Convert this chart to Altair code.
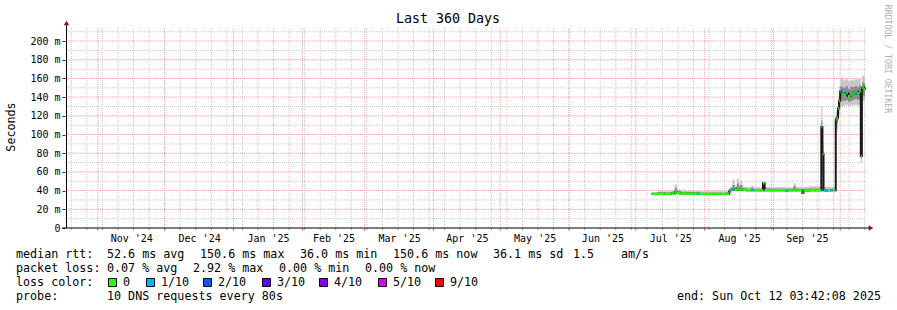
import altair as alt
import pandas as pd

# ---------------- data ----------------
times = [
    "2025-07-08T04:00", "2025-07-11T00:00", "2025-07-14T00:00", "2025-07-17T00:00",
    "2025-07-18T12:00", "2025-07-19T12:00", "2025-07-21T00:00", "2025-07-24T00:00",
    "2025-07-27T00:00", "2025-07-28T12:00", "2025-07-29T12:00", "2025-08-02T00:00",
    "2025-08-05T00:00", "2025-08-08T00:00", "2025-08-11T00:00", "2025-08-12T00:00",
    "2025-08-12T12:00", "2025-08-13T12:00", "2025-08-14T12:00", "2025-08-15T12:00",
    "2025-08-16T12:00", "2025-08-17T00:00", "2025-08-18T00:00", "2025-08-20T00:00",
    "2025-08-22T00:00", "2025-08-23T00:00", "2025-08-26T00:00", "2025-08-27T06:00",
    "2025-08-28T00:00", "2025-08-31T00:00", "2025-09-03T00:00", "2025-09-06T12:00",
    "2025-09-07T12:00", "2025-09-10T00:00", "2025-09-11T00:00", "2025-09-14T00:00",
    "2025-09-14T12:00", "2025-09-17T00:00", "2025-09-20T00:00", "2025-09-22T12:00",
    "2025-09-23T00:00", "2025-09-23T12:00", "2025-09-24T12:00", "2025-09-25T12:00",
    "2025-09-26T12:00", "2025-09-27T12:00", "2025-09-28T12:00", "2025-09-29T00:00",
    "2025-09-29T12:00", "2025-09-30T00:00", "2025-09-30T12:00", "2025-10-01T00:00",
    "2025-10-01T12:00", "2025-10-02T12:00", "2025-10-03T12:00", "2025-10-04T12:00",
    "2025-10-05T12:00", "2025-10-06T12:00", "2025-10-07T12:00", "2025-10-08T12:00",
    "2025-10-09T12:00", "2025-10-10T06:00", "2025-10-10T18:00", "2025-10-11T12:00",
    "2025-10-12T03:00", "2025-10-12T03:42",
]
median_ms = [
    36.4, 36.6, 36.5, 36.8, 38.2, 37.6, 37.0, 36.8, 36.6, 36.7, 36.5, 36.4,
    36.5, 36.4, 36.6, 39.0, 40.6, 41.2, 40.8, 42.0, 40.9, 41.3, 40.6, 40.4,
    40.6, 40.3, 40.3, 48.0, 40.5, 40.3, 40.4, 40.2, 40.3, 40.6, 40.3, 37.5,
    40.2, 40.4, 40.3, 108.0, 79.0, 40.3, 40.2, 40.4, 40.3, 40.5, 40.3, 116.0,
    118.0, 128.0, 136.0, 146.0, 143.0, 142.5, 144.5, 141.0, 143.0, 144.0, 145.0, 144.0,
    146.0, 77.0, 150.0, 149.0, 150.6, 150.6,
]
smoke_lo = [
    35.6, 35.8, 35.8, 36.0, 36.3, 36.2, 36.0, 35.9, 35.8, 35.8, 35.8, 35.7,
    35.8, 35.7, 35.8, 36.5, 39.5, 39.8, 39.6, 39.8, 39.7, 39.8, 39.6, 39.5,
    39.6, 39.5, 39.5, 40.5, 39.6, 39.5, 39.5, 39.4, 39.5, 39.6, 39.5, 37.0,
    39.5, 39.5, 39.5, 78.0, 42.0, 39.5, 39.4, 39.5, 39.5, 39.6, 39.5, 100.0,
    105.0, 115.0, 122.0, 131.0, 130.0, 131.0, 132.0, 130.0, 131.0, 131.0, 132.0, 131.0,
    132.0, 70.0, 136.0, 135.0, 136.0, 136.0,
]
smoke_hi = [
    38.6, 39.2, 39.4, 40.2, 46.5, 41.5, 40.3, 39.8, 39.5, 39.6, 39.4, 39.2,
    39.3, 39.2, 39.5, 42.5, 44.5, 51.5, 45.5, 53.0, 46.0, 50.5, 44.5, 43.8,
    45.5, 43.5, 43.5, 50.0, 44.0, 43.6, 43.8, 43.4, 43.6, 48.0, 43.8, 43.0,
    44.0, 44.8, 44.6, 130.0, 92.0, 44.0, 43.8, 44.2, 43.5, 44.0, 43.8, 125.0,
    128.0, 140.0, 152.0, 160.0, 161.0, 158.0, 160.0, 157.0, 159.0, 158.0, 160.0, 159.0,
    160.0, 150.0, 163.0, 162.0, 163.0, 163.0,
]
core_lo = [
    36.0, 36.2, 36.1, 36.3, 37.0, 36.6, 36.4, 36.2, 36.1, 36.1, 36.0, 36.0,
    36.1, 36.0, 36.1, 37.5, 40.0, 40.3, 40.1, 40.6, 40.2, 40.4, 40.0, 39.9,
    40.0, 39.9, 39.9, 42.0, 40.0, 39.9, 39.9, 39.8, 39.9, 40.0, 39.9, 37.3,
    39.9, 39.9, 39.9, 95.0, 60.0, 39.9, 39.8, 39.9, 39.9, 40.0, 39.9, 108.0,
    112.0, 121.0, 128.0, 138.0, 136.0, 136.0, 137.0, 135.0, 136.0, 137.0, 138.0, 137.0,
    138.0, 74.0, 142.0, 141.0, 142.0, 142.0,
]
core_hi = [
    37.5, 37.8, 37.9, 38.3, 43.0, 39.5, 38.4, 38.0, 37.8, 37.9, 37.8, 37.6,
    37.7, 37.6, 37.9, 40.8, 42.5, 46.0, 43.0, 47.5, 43.5, 46.0, 42.5, 42.0,
    43.0, 41.8, 41.8, 48.5, 42.2, 41.9, 42.0, 41.8, 41.9, 45.0, 42.0, 40.0,
    42.0, 42.3, 42.2, 115.0, 82.0, 42.0, 41.8, 42.0, 41.8, 42.0, 41.9, 120.0,
    123.0, 134.0, 144.0, 152.0, 151.0, 150.0, 152.0, 149.0, 151.0, 151.0, 152.0, 151.0,
    153.0, 120.0, 156.0, 155.0, 156.0, 156.0,
]
loss = [
    0, 0, 0, 0, 0, 0, 0, 0, 0, 1, 0, 0,
    0, 0, 0, 0, 0, 1, 0, 0, 0, 0, 0, 0,
    1, 0, 0, 0, 0, 0, 0, 1, 0, 0, 0, 0,
    0, 0, 0, 1, 0, 1, 1, 0, 1, 0, 1, 0,
    0, 0, 0, 1, 0, 0, 1, 0, 0, 0, 1, 0,
    0, 0, 0, 0, 0, 0,
]

loss_levels = [0, 1, 2, 3, 4, 5, 9]
loss_labels = ["0", "1/10", "2/10", "3/10", "4/10", "5/10", "9/10"]
loss_colors = ["#26ff00", "#00b8ff", "#0059ff", "#5e00ff", "#7e00ff", "#dd00ff", "#ff0000"]

y_major = [0, 20, 40, 60, 80, 100, 120, 140, 160, 180, 200]
y_minor = [10, 30, 50, 70, 90, 110, 130, 150, 170, 190, 210]
month_starts = [
    "2024-11-01T00:00", "2024-12-01T00:00", "2025-01-01T00:00", "2025-02-01T00:00",
    "2025-03-01T00:00", "2025-04-01T00:00", "2025-05-01T00:00", "2025-06-01T00:00",
    "2025-07-01T00:00", "2025-08-01T00:00", "2025-09-01T00:00", "2025-10-01T00:00",
]
# (year, month, day, hour) of the month label centres
month_label_pos = [
    (2024, 11, 16, 0), (2024, 12, 16, 12), (2025, 1, 16, 12), (2025, 2, 15, 0),
    (2025, 3, 16, 12), (2025, 4, 16, 0), (2025, 5, 16, 12), (2025, 6, 16, 0),
    (2025, 7, 16, 12), (2025, 8, 16, 12), (2025, 9, 16, 0),
]
week_starts = [d.strftime("%Y-%m-%dT%H:%M") for d in pd.date_range("2024-10-20", "2025-10-12", freq="7D")]

# ---------------- layout ----------------
OX, OY = 65, 28          # plot-area origin in the 897x310 page
W, H = 800, 200
MONO = "DejaVu Sans Mono"
FS = 11.7

df = pd.DataFrame({"t": times, "med": median_ms, "lo": smoke_lo, "hi": smoke_hi,
                   "lo2": core_lo, "hi2": core_hi, "loss": loss})
df["t2"] = df["t"].shift(-1)
seg = df.dropna(subset=["t2"])

START = alt.DateTime(year=2024, month=10, date=17, hours=3, minutes=42, seconds=8)
END = alt.DateTime(year=2025, month=10, date=12, hours=3, minutes=42, seconds=8)
xscale = alt.Scale(domain=[START, END])
yscale = alt.Scale(domain=[0, 214], nice=False, zero=False)

x_axis = alt.Axis(
    values=[alt.DateTime(year=a, month=b, date=c, hours=h) for a, b, c, h in month_label_pos],
    format="%b '%y", labelFont=MONO, labelFontSize=10, labelColor="black",
    labelAlign="center", labelFlush=False, labelOverlap=False, labelPadding=5,
    ticks=False, domain=False, grid=False, title=None,
)
y_axis = alt.Axis(
    values=y_major, labelExpr="datum.value == 0 ? '0\u00a0\u00a0' : datum.value + ' m'",
    labelFont=MONO, labelFontSize=10, labelColor="black", labelPadding=2,
    tickSize=3, tickColor="#333333", domain=False, grid=False, title=None,
)


def X(field):
    return alt.X(field, type="temporal", scale=xscale, axis=x_axis)


def Y(field):
    return alt.Y(field, type="quantitative", scale=yscale, axis=y_axis)


ONE = pd.DataFrame({"k": [0]})


def txt(s, x, y, size=FS, align="left", color="black", angle=0):
    return alt.Chart(ONE).mark_text(
        text=s, align=align, baseline="middle", font=MONO, fontSize=size,
        color=color, angle=angle,
    ).encode(x=alt.value(x - OX), y=alt.value(y - OY))


GRAY = "#c8c8c8"
RED = "#efa7a7"

wk = pd.DataFrame({"t": week_starts})
mo = pd.DataFrame({"t": month_starts})
ymin = pd.DataFrame({"v": y_minor})
ymaj = pd.DataFrame({"v": [v for v in y_major if v > 0]})

layers = [
    alt.Chart(wk).mark_rule(color=GRAY, strokeDash=[1, 1]).encode(x=X("t")),
    alt.Chart(ymin).mark_rule(color=GRAY, strokeDash=[1, 1]).encode(y=Y("v")),
    alt.Chart(mo).mark_rule(color=RED, strokeDash=[1, 1]).encode(x=X("t")),
    alt.Chart(ymaj).mark_rule(color=RED, strokeDash=[1, 1]).encode(y=Y("v")),
    # small ticks under the x axis
    alt.Chart(wk).mark_rule(color="#999999").encode(x=X("t"), y=alt.value(H), y2=alt.value(H + 2)),
    alt.Chart(mo).mark_rule(color="#ff6666").encode(x=X("t"), y=alt.value(H), y2=alt.value(H + 3)),
    # smoke
    alt.Chart(df).mark_area(interpolate="step-after", color="#c8c8c8").encode(x=X("t"), y=Y("hi"), y2="lo"),
    alt.Chart(df).mark_area(interpolate="step-after", color="#8c8c8c").encode(x=X("t"), y=Y("hi2"), y2="lo2"),
    # median
    alt.Chart(df).mark_line(interpolate="step-after", color="#1a1a1a", strokeWidth=2).encode(x=X("t"), y=Y("med")),
    alt.Chart(seg).mark_rule(strokeWidth=2.5).encode(
        x=X("t"), x2="t2", y=Y("med"),
        color=alt.Color("loss:O", scale=alt.Scale(domain=loss_levels, range=loss_colors), legend=None),
    ),
    # axis lines and arrows
    alt.Chart(ONE).mark_rule(color="black").encode(x=alt.value(-3), x2=alt.value(W + 4), y=alt.value(H)),
    alt.Chart(ONE).mark_rule(color="black").encode(x=alt.value(1.5), y=alt.value(-3), y2=alt.value(H)),
    alt.Chart(ONE).mark_point(shape="triangle-up", filled=True, size=30, color="#8b1a1a", opacity=1).encode(
        x=alt.value(1.5), y=alt.value(-5)),
    alt.Chart(ONE).mark_point(shape="triangle-right", filled=True, size=30, color="#8b1a1a", opacity=1).encode(
        x=alt.value(W + 6), y=alt.value(H)),
    # titles
    txt("Last 360 Days", 448, 19, size=13.3, align="center"),
    txt("Seconds", 11, 127, angle=270, align="center"),
    txt("RRDTOOL / TOBI OETIKER", 887, 59, size=8.2, color="#b0b0b0", angle=90, align="center"),
]

# legend text
legend_rows = [
    (254, [("median rtt:", 16), ("52.6 ms avg", 107), ("150.6 ms max", 200), ("36.0 ms min", 300),
           ("150.6 ms now", 393), ("36.1 ms sd", 493), ("1.5", 573), ("am/s", 621)]),
    (268, [("packet loss:", 16), ("0.07 % avg", 107), ("2.92 % max", 193), ("0.00 % min", 279),
           ("0.00 % now", 365)]),
    (282, [("loss color:", 16)]),
    (296, [("probe:", 16), ("10 DNS requests every 80s", 107)]),
]
for yy, items in legend_rows:
    for s, xx in items:
        layers.append(txt(s, xx, yy))
layers.append(txt("end: Sun Oct 12 03:42:08 2025", 881, 296, align="right"))

box_x = [108, 146, 203, 262, 319, 378, 435]
for bx, lab, col in zip(box_x, loss_labels, loss_colors):
    layers.append(
        alt.Chart(ONE).mark_rect(color=col, stroke="black", strokeWidth=1).encode(
            x=alt.value(bx - OX + 0.5), x2=alt.value(bx - OX + 8.5),
            y=alt.value(278 - OY + 0.5), y2=alt.value(286 - OY + 0.5))
    )
    layers.append(txt(lab, bx + 15, 282))

chart = alt.layer(*layers).properties(
    width=W, height=H,
    autosize=alt.AutoSizeParams(type="none"),
    padding={"left": OX, "top": OY, "right": 897 - OX - W, "bottom": 310 - OY - H},
    background="white",
).configure_view(stroke=None)

chart.save("out.html", embed_options={"renderer": "svg", "actions": False})
